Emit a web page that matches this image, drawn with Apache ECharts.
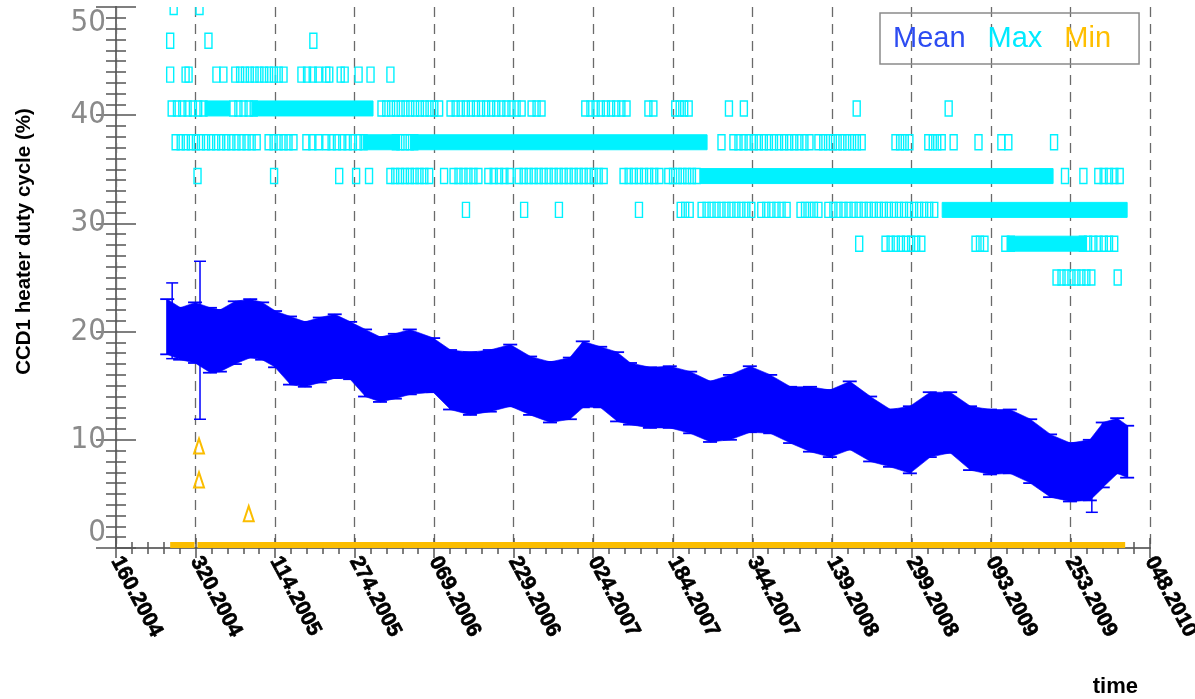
<!DOCTYPE html>
<html><head><meta charset="utf-8">
<script src="https://cdn.jsdelivr.net/npm/echarts@6/dist/echarts.min.js"></script>
<style>html,body{margin:0;padding:0;background:#fff}#c{width:1195px;height:699px}</style>
</head><body><div id="c"></div>
<script>
// x values: days since 160.2004 (ticks every 160 days)
const xTickLabels = ['160.2004','320.2004','114.2005','274.2005','069.2006','229.2006','024.2007','184.2007','344.2007','139.2008','299.2008','093.2009','253.2009','048.2010'];
const yTicks = [0, 10, 20, 30, 40, 50];

// Mean (with error bars)
const meanDays = [103,129,159,189,209,239,270,294,320,350,380,410,440,471,501,531,561,591,638,672,712,752,793,833,873,913,939,974,1008,1034,1074,1114,1155,1195,1235,1275,1316,1356,1396,1436,1476,1517,1557,1597,1637,1678,1718,1758,1798,1839,1879,1919,1959,1985,2014,2034];
const meanVals = [20.45,19.8,19.9,19.2,19.15,19.9,20.3,20.05,19.3,18.25,17.9,18.3,18.65,18.25,17.1,16.5,16.8,17.2,16.9,15.55,15.2,15.45,15.95,15.0,14.4,14.75,16.05,15.8,14.9,14.25,13.9,13.95,13.45,12.6,13.0,13.75,13.3,12.3,11.9,11.5,12.25,11.0,10.15,10.0,11.4,11.6,10.15,9.8,9.85,8.95,7.6,7.0,7.2,8.6,9.45,8.9];
const meanErr = [2.55,2.4,2.8,3.0,2.85,2.9,2.7,2.65,2.6,3.15,3.0,3.0,2.95,2.65,3.1,3.0,3.0,3.0,2.5,2.75,2.9,2.85,2.85,2.7,2.8,2.85,3.05,2.8,3.2,2.85,2.8,2.85,2.85,2.8,3.0,3.05,2.7,2.6,3.0,3.1,3.15,3.0,2.65,3.1,3.0,2.8,2.95,3.0,2.95,2.95,2.9,2.7,2.8,3.0,2.55,2.4];
// single wide error bars: [day, mean, err]
const meanSingles = [[113,21.0,3.5],[169,19.2,7.3],[1963,6.4,3.1]];

// Max: runs of days at quantised levels [startDay, endDay, level, dense]
const maxRuns = [
 [116,116,50,0],[168,168,50,0],
 [109,109,46.875,0],[186,186,46.875,0],[397,397,46.875,0],
 [109,113,43.75,0],[140,146,43.75,0],[202,216,43.75,0],[240,337,43.75,0],[373,407,43.75,0],[423,429,43.75,0],[452,460,43.75,0],[488,492,43.75,0],[512,512,43.75,0],[552,552,43.75,0],
 [112,176,40.625,0],[186,222,40.625,1],[236,277,40.625,0],[281,510,40.625,1],[534,650,40.625,0],[673,816,40.625,0],[836,856,40.625,0],[944,1027,40.625,0],[1071,1081,40.625,0],[1125,1152,40.625,0],[1233,1233,40.625,0],[1263,1263,40.625,0],[1490,1490,40.625,0],[1675,1675,40.625,0],
 [120,283,37.5,0],[307,357,37.5,0],[383,407,37.5,0],[423,498,37.5,0],[505,563,37.5,1],[563,600,37.5,0],[600,1182,37.5,1],[1218,1218,37.5,0],[1242,1395,37.5,0],[1413,1500,37.5,0],[1568,1596,37.5,0],[1634,1661,37.5,0],[1685,1685,37.5,0],[1735,1735,37.5,0],[1781,1795,37.5,0],[1887,1887,37.5,0],
 [164,164,34.375,0],[318,318,34.375,0],[449,449,34.375,0],[483,483,34.375,0],[509,509,34.375,0],[552,630,34.375,0],[660,660,34.375,0],[679,729,34.375,0],[749,792,34.375,0],[810,981,34.375,0],[1021,1093,34.375,0],[1111,1168,34.375,0],[1182,1878,34.375,1],[1909,1909,34.375,0],[1946,1946,34.375,0],[1976,2019,34.375,0],
 [704,704,31.25,0],[821,821,31.25,0],[891,891,31.25,0],[1052,1052,31.25,0],[1136,1154,31.25,0],[1178,1278,31.25,0],[1298,1349,31.25,0],[1377,1413,31.25,0],[1433,1646,31.25,0],[1669,2027,31.25,1],
 [1495,1495,28.125,0],[1548,1620,28.125,0],[1729,1747,28.125,0],[1789,1800,28.125,0],[1800,1945,28.125,1],[1945,2008,28.125,0],
 [1892,1962,25,0],[2015,2015,25,0]
];

// Min: runs [startDay, endDay, level] and single points [day, level]
const minRuns = [[117,150,0],[172,2022,0]];
const minSingles = [[167,9.375],[167,6.25],[267,3.125]];

const BLUE = '#0000ff', CYAN = '#00f2ff', ORANGE = '#fbbd00';

function renderMean(params, api) {
  const i = params.dataIndex;
  const n = meanDays.length;
  const d = api.value(0), m = api.value(1), e = api.value(2);
  const t = api.coord([d, m + e]), b = api.coord([d, m - e]);
  const children = [];
  if (i < n - 1) {
    const d2 = meanDays[i + 1], m2 = meanVals[i + 1], e2 = meanErr[i + 1];
    const t2 = api.coord([d2, m2 + e2]), b2 = api.coord([d2, m2 - e2]);
    children.push({ type: 'polygon', shape: { points: [[t[0], t[1]], [t2[0] + 0.5, t2[1]], [b2[0] + 0.5, b2[1]], [b[0], b[1]]] }, style: { fill: BLUE, stroke: BLUE, lineWidth: 0.6 } });
  }
  children.push({ type: 'line', shape: { x1: t[0] - 7, y1: t[1], x2: t[0] + 7, y2: t[1] }, style: { stroke: BLUE, lineWidth: 1.8 } });
  children.push({ type: 'line', shape: { x1: b[0] - 7, y1: b[1], x2: b[0] + 7, y2: b[1] }, style: { stroke: BLUE, lineWidth: 1.8 } });
  children.push({ type: 'line', shape: { x1: t[0], y1: t[1], x2: b[0], y2: b[1] }, style: { stroke: BLUE, lineWidth: 2 } });
  return { type: 'group', children };
}
function renderMeanSingle(params, api) {
  const d = api.value(0), m = api.value(1), e = api.value(2);
  const t = api.coord([d, m + e]), b = api.coord([d, m - e]);
  return { type: 'group', children: [
    { type: 'line', shape: { x1: t[0], y1: t[1], x2: b[0], y2: b[1] }, style: { stroke: BLUE, lineWidth: 1.5 } },
    { type: 'line', shape: { x1: t[0] - 6, y1: t[1], x2: t[0] + 6, y2: t[1] }, style: { stroke: BLUE, lineWidth: 1.5 } },
    { type: 'line', shape: { x1: b[0] - 6, y1: b[1], x2: b[0] + 6, y2: b[1] }, style: { stroke: BLUE, lineWidth: 1.5 } }
  ]};
}
function renderMax(params, api) {
  const s = api.value(0), e = api.value(1), lv = api.value(2), dense = api.value(3);
  const p0 = api.coord([s, lv]), p1 = api.coord([e, lv]);
  const hw = 3.5, hh = 7.5;
  if (dense) {
    return { type: 'rect', shape: { x: p0[0] - hw, y: p0[1] - hh, width: p1[0] - p0[0] + 2 * hw, height: 2 * hh }, style: { fill: CYAN, stroke: CYAN, lineWidth: 1 } };
  }
  const children = [];
  const span = p1[0] - p0[0];
  const k = Math.max(1, Math.round(span / 5) + 1);
  for (let j = 0; j < k; j++) {
    const x = k === 1 ? p0[0] : p0[0] + span * j / (k - 1);
    children.push({ type: 'rect', shape: { x: x - hw, y: p0[1] - hh, width: 2 * hw, height: 2 * hh }, style: { fill: null, stroke: CYAN, lineWidth: 1.4 } });
  }
  return { type: 'group', children };
}
function renderMinRun(params, api) {
  const s = api.value(0), e = api.value(1), lv = api.value(2);
  const p0 = api.coord([s, lv]), p1 = api.coord([e, lv]);
  return { type: 'rect', shape: { x: p0[0] - 4, y: p0[1] - 6, width: p1[0] - p0[0] + 8, height: 12 }, style: { fill: ORANGE } };
}
function renderMinSingle(params, api) {
  const p = api.coord([api.value(0), api.value(1)]);
  return { type: 'polygon', shape: { points: [[p[0], p[1] - 8], [p[0] - 5, p[1] + 7], [p[0] + 5, p[1] + 7]] }, style: { fill: null, stroke: ORANGE, lineWidth: 2 } };
}

const chart = echarts.init(document.getElementById('c'), null, { renderer: 'canvas' });
const axisLineStyle = { color: '#707070', width: 2 };
const tickStyle = { color: '#555', width: 1.5 };
const xCommon = { type: 'value', min: 0, max: 2080, interval: 160 };
const yCommon = { type: 'value', min: yTicks[0], max: yTicks[yTicks.length - 1], interval: yTicks[1] - yTicks[0] };

chart.setOption({
  animation: false,
  backgroundColor: '#fff',
  grid: { left: 116, right: 45, top: 7, bottom: 151, containLabel: false, outerBoundsMode: 'none' },
  legend: {
    left: 880, top: 13, icon: 'none', itemWidth: 0, itemHeight: 10, itemGap: 17,
    padding: [11, 28, 11, 8], borderColor: '#8a8a8a', borderWidth: 1.5, selectedMode: false,
    textStyle: { fontSize: 29, fontFamily: 'Liberation Sans, Arial, sans-serif' },
    data: [
      { name: 'Mean', textStyle: { color: '#2d4cf2' } },
      { name: 'Max', textStyle: { color: '#00eaff' } },
      { name: 'Min', textStyle: { color: '#ffbf00' } }
    ]
  },
  xAxis: [
    Object.assign({}, xCommon, {
      position: 'bottom',
      axisLine: { show: true, lineStyle: axisLineStyle },
      axisTick: { show: true, inside: true, length: 10, lineStyle: tickStyle },
      minorTick: { show: true, splitNumber: 5, length: 6, lineStyle: tickStyle },
      axisLabel: { rotate: -62, margin: 10, fontSize: 21, fontWeight: 'bold', color: '#000', fontFamily: 'Liberation Sans, Arial, sans-serif',
        textBorderColor: '#000', textBorderWidth: 0.7,
        formatter: v => xTickLabels[Math.round(v / 160)] },
      splitLine: { show: true, lineStyle: { type: [10, 7], color: '#6a6a6a', width: 1.3 } },
      name: 'time', nameLocation: 'end', nameGap: 0, nameMoveOverlap: false,
      nameTextStyle: { align: 'right', verticalAlign: 'top', padding: [128, 12, 0, 0], fontSize: 22, fontWeight: 'bold', color: '#000', fontFamily: 'Liberation Sans, Arial, sans-serif' }
    }),
    Object.assign({}, xCommon, {
      position: 'top',
      axisLine: { show: true, lineStyle: axisLineStyle },
      axisTick: { show: true, inside: true, length: 10, lineStyle: tickStyle },
      minorTick: { show: true, splitNumber: 5, length: 6, lineStyle: tickStyle },
      axisLabel: { show: false }, splitLine: { show: false }
    })
  ],
  yAxis: [
    Object.assign({}, yCommon, {
      position: 'left',
      axisLine: { show: true, lineStyle: axisLineStyle },
      axisTick: { show: true, inside: true, length: 20, lineStyle: tickStyle },
      minorTick: { show: true, splitNumber: 10, length: 10, lineStyle: tickStyle },
      axisLabel: { margin: 10, fontSize: 31, color: '#8a8a8a', fontFamily: "'Liberation Sans Narrow', 'DejaVu Sans Condensed', 'Liberation Sans', sans-serif",
        verticalAlignMinLabel: 'bottom', verticalAlignMaxLabel: 'top' },
      splitLine: { show: false },
      name: 'CCD1 heater duty cycle (%)', nameLocation: 'middle', nameGap: 81, nameMoveOverlap: false,
      nameTextStyle: { fontSize: 20.5, fontWeight: 'bold', color: '#000', fontFamily: 'Liberation Sans, Arial, sans-serif', padding: [0, 0, 0, 72] }
    }),
    Object.assign({}, yCommon, {
      position: 'right',
      axisLine: { show: true, lineStyle: axisLineStyle },
      axisTick: { show: true, inside: true, length: 20, lineStyle: tickStyle },
      minorTick: { show: true, splitNumber: 10, length: 10, lineStyle: tickStyle },
      axisLabel: { show: false }, splitLine: { show: false }
    })
  ],
  series: [
    { name: 'Max', type: 'custom', clip: true, renderItem: renderMax, data: maxRuns, encode: { x: [0, 1], y: 2 }, z: 3 },
    { name: 'Mean', type: 'custom', clip: true, renderItem: renderMean,
      data: meanDays.map((d, i) => [d, meanVals[i], meanErr[i]]), encode: { x: 0, y: 1 }, z: 4 },
    { name: 'Mean', type: 'custom', clip: true, renderItem: renderMeanSingle, data: meanSingles, encode: { x: 0, y: 1 }, z: 5 },
    { name: 'Min', type: 'custom', clip: true, renderItem: renderMinRun, data: minRuns, encode: { x: [0, 1], y: 2 }, z: 6 },
    { name: 'Min', type: 'custom', clip: true, renderItem: renderMinSingle, data: minSingles, encode: { x: 0, y: 1 }, z: 6 }
  ]
});
</script></body></html>
